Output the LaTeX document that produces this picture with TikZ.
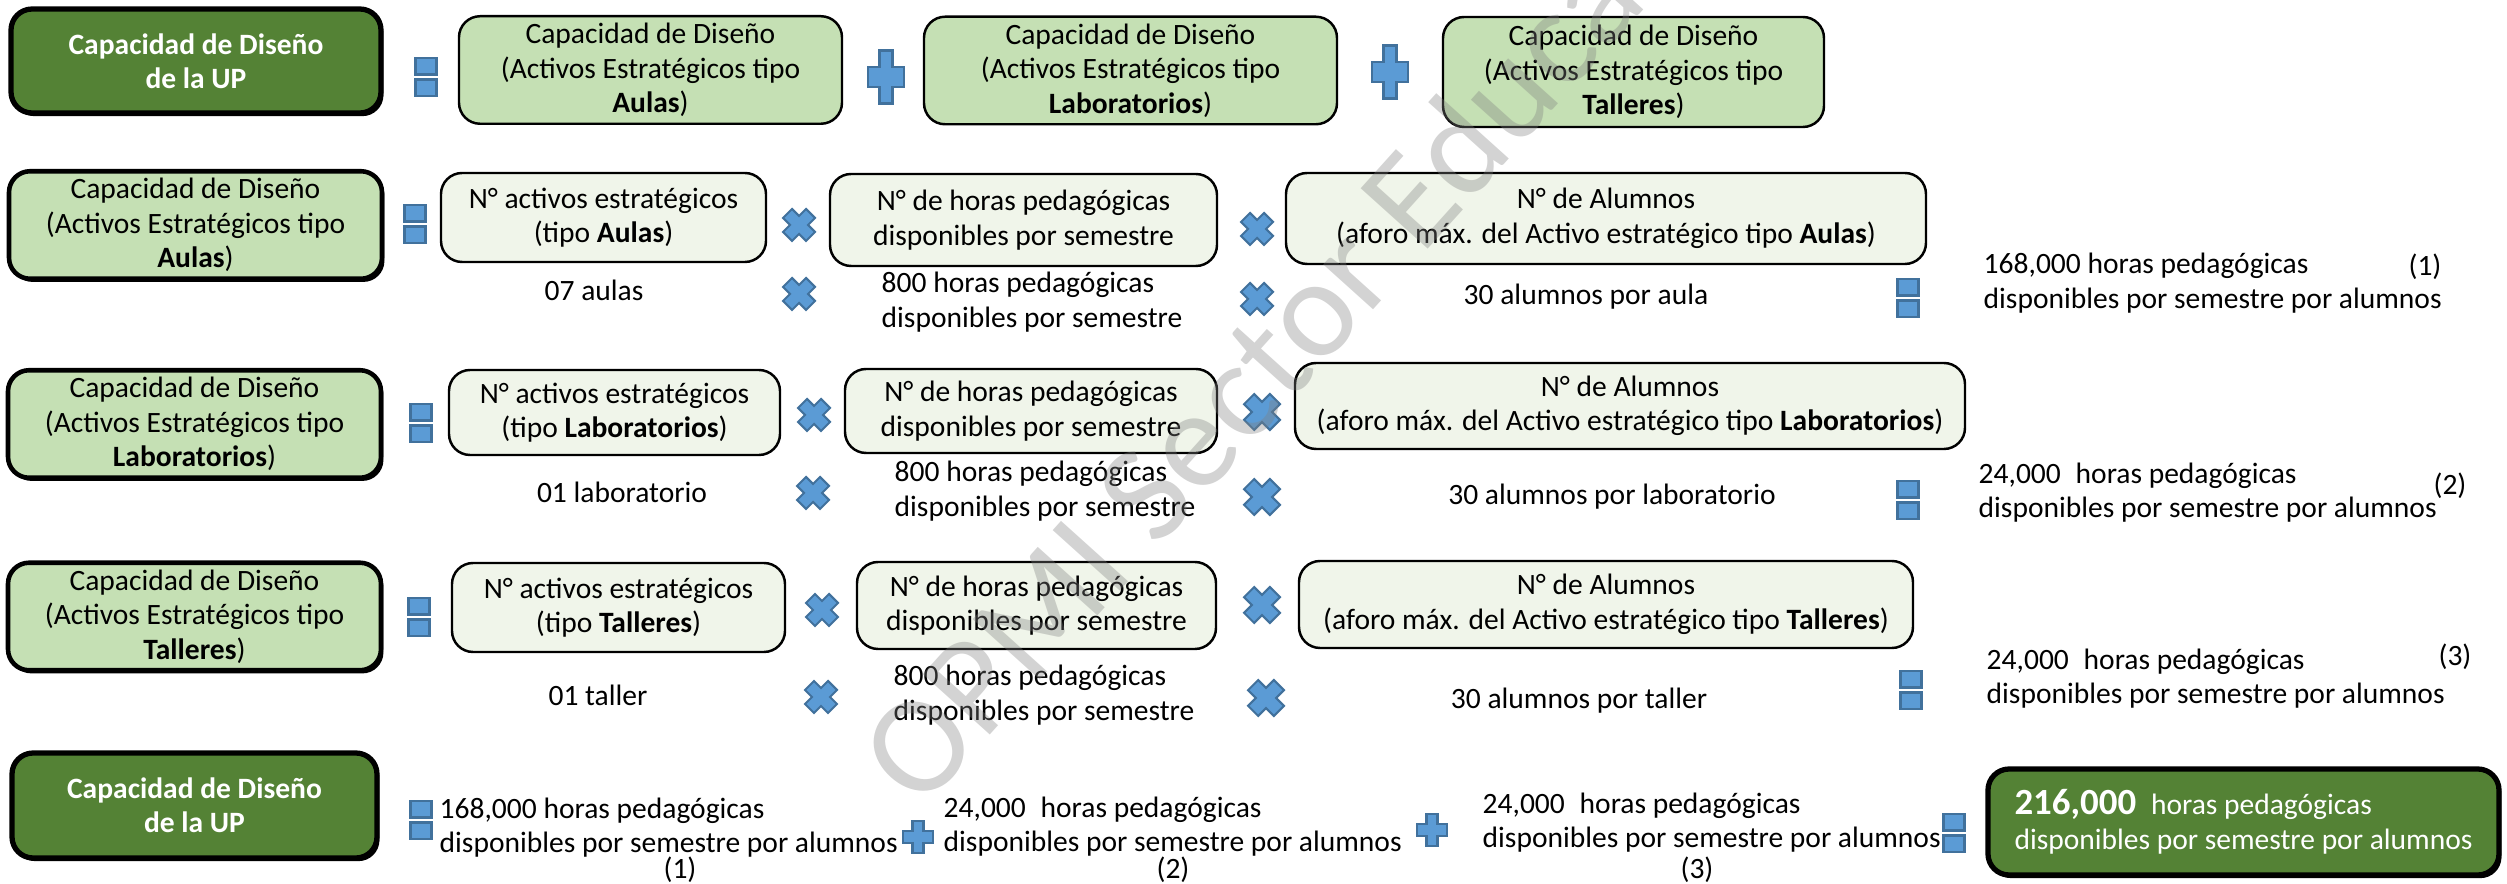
\documentclass[tikz,border=0pt]{standalone}
\usepackage{fontspec}
\setmainfont{Carlito}
\usetikzlibrary{positioning}
\definecolor{updark}{RGB}{84,130,53}
\definecolor{capgreen}{RGB}{197,224,180}
\definecolor{factfill}{RGB}{240,245,234}
\definecolor{iconblue}{RGB}{91,155,213}
\definecolor{iconedge}{RGB}{65,113,156}
\newcommand{\basefont}{\fontsize{8.4}{9.8}\selectfont}

\tikzset{
  iconshape/.style={fill=iconblue, draw=iconedge, line width=0.6pt},
  eqicon/.pic={
    \filldraw[iconshape] (-0.105,0.025) rectangle (0.105,0.19);
    \filldraw[iconshape] (-0.105,-0.025) rectangle (0.105,-0.19);
  },
  plusicon/.pic={
    \filldraw[iconshape] (-0.065,0.265) -- (0.065,0.265) -- (0.065,0.1) -- (0.18,0.1) -- (0.18,-0.1)
      -- (0.065,-0.1) -- (0.065,-0.265) -- (-0.065,-0.265) -- (-0.065,-0.1) -- (-0.18,-0.1)
      -- (-0.18,0.1) -- (-0.065,0.1) -- cycle;
  },
  timesicon/.pic={
    \filldraw[iconshape] (0,0.09) -- (0.07,0.16) -- (0.16,0.07) -- (0.09,0) -- (0.16,-0.07)
      -- (0.07,-0.16) -- (0,-0.09) -- (-0.07,-0.16) -- (-0.16,-0.07) -- (-0.09,0)
      -- (-0.16,0.07) -- (-0.07,0.16) -- cycle;
  }
}

\begin{document}
\begin{tikzpicture}[
    shadowed/.style={preaction={fill=black, transform canvas={xshift=0.7pt, yshift=-0.9pt}}},
    upbox/.style={rectangle, rounded corners=6pt, draw=black, line width=1.5pt, fill=updark, shadowed,
                  text=white, font=\basefont\bfseries, align=center, inner sep=2pt},
    capbox/.style={rectangle, rounded corners=6pt, draw=black, line width=1.3pt, fill=capgreen, shadowed,
                   font=\basefont, align=center, inner sep=2pt},
    sumbox/.style={rectangle, rounded corners=6pt, draw=black, line width=0.7pt, fill=capgreen,
                   font=\basefont, align=center, inner sep=2pt},
    factbox/.style={rectangle, rounded corners=6pt, draw=black, line width=0.7pt, fill=factfill,
                    font=\basefont, align=center, inner sep=2pt},
    plain/.style={font=\basefont, align=center, inner sep=1pt},
    result/.style={font=\basefont, align=left, anchor=west, inner sep=0pt}
]
\useasboundingbox (0,0) rectangle (25.07,-8.84);

% capacidad de la UP = suma de los tres tipos
\node[upbox, minimum width=3.70cm, minimum height=1.04cm] (upTop) at (1.96,-0.61) {Capacidad de Diseño\\de la UP};
\pic at (4.26,-0.77) {eqicon};
\node[sumbox, minimum width=3.83cm, minimum height=1.04cm] (sumAulas) at (6.505,-0.70) {Capacidad de Diseño\\(Activos Estratégicos tipo\\\textbf{Aulas})};
\pic at (8.86,-0.77) {plusicon};
\node[sumbox, minimum width=4.13cm, minimum height=1.07cm] (sumLab) at (11.305,-0.705) {Capacidad de Diseño\\(Activos Estratégicos tipo\\\textbf{Laboratorios})};
\pic at (13.90,-0.72) {plusicon};
\node[sumbox, minimum width=3.81cm, minimum height=1.10cm] (sumTal) at (16.335,-0.72) {Capacidad de Diseño\\(Activos Estratégicos tipo\\\textbf{Talleres})};

% aulas
\node[capbox, minimum width=3.73cm, minimum height=1.06cm] (capAulas) at (1.955,-2.25) {Capacidad de Diseño\\(Activos Estratégicos tipo\\\textbf{Aulas})};
\pic at (4.15,-2.24) {eqicon};
\node[factbox, minimum width=3.25cm, minimum height=0.89cm] (actAulas) at (6.035,-2.175) {N° activos estratégicos\\(tipo \textbf{Aulas})};
\node[plain] (valActAulas) at (5.94,-2.90) {07 aulas};
\pic at (7.99,-2.25) {timesicon};
\pic at (7.99,-2.94) {timesicon};
\node[factbox, minimum width=3.87cm, minimum height=0.92cm] (horAulas) at (10.235,-2.20) {N° de horas pedagógicas\\disponibles por semestre};
\node[result] (valHorAulas) at (8.81,-3.02) {800 horas pedagógicas\\disponibles por semestre};
\pic at (12.57,-2.29) {timesicon};
\pic at (12.57,-2.99) {timesicon};
\node[factbox, minimum width=6.40cm, minimum height=0.91cm] (aluAulas) at (16.06,-2.185) {N° de Alumnos\\(aforo máx. del Activo estratégico tipo \textbf{Aulas})};
\node[plain] (valAluAulas) at (15.86,-2.97) {30 alumnos por aula};
\pic at (19.08,-2.98) {eqicon};
\node[result] (resAulas) at (19.83,-2.83) {168,000 horas pedagógicas\\disponibles por semestre por alumnos};
\node[plain] (refAulas) at (24.25,-2.67) {(1)};

% laboratorios
\node[capbox, minimum width=3.73cm, minimum height=1.04cm] (capLab) at (1.945,-4.24) {Capacidad de Diseño\\(Activos Estratégicos tipo\\\textbf{Laboratorios})};
\pic at (4.21,-4.23) {eqicon};
\node[factbox, minimum width=3.31cm, minimum height=0.85cm] (actLab) at (6.145,-4.125) {N° activos estratégicos\\(tipo \textbf{Laboratorios})};
\node[plain] (valActLab) at (6.22,-4.92) {01 laboratorio};
\pic at (8.14,-4.15) {timesicon};
\pic at (8.13,-4.93) {timesicon};
\node[factbox, minimum width=3.72cm, minimum height=0.84cm] (horLab) at (10.31,-4.11) {N° de horas pedagógicas\\disponibles por semestre};
\node[result] (valHorLab) at (8.94,-4.91) {800 horas pedagógicas\\disponibles por semestre};
\pic[scale=1.12] at (12.62,-4.12) {timesicon};
\pic[scale=1.12] at (12.62,-4.97) {timesicon};
\node[factbox, minimum width=6.70cm, minimum height=0.86cm] (aluLab) at (16.30,-4.06) {N° de Alumnos\\(aforo máx. del Activo estratégico tipo \textbf{Laboratorios})};
\node[plain] (valAluLab) at (16.12,-4.97) {30 alumnos por laboratorio};
\pic at (19.08,-5.00) {eqicon};
\node[result] (resLab) at (19.78,-4.925) {24,000\enspace horas pedagógicas\\disponibles por semestre por alumnos};
\node[plain] (refLab) at (24.50,-4.86) {(2)};

% talleres
\node[capbox, minimum width=3.73cm, minimum height=1.07cm] (capTal) at (1.945,-6.165) {Capacidad de Diseño\\(Activos Estratégicos tipo\\\textbf{Talleres})};
\pic at (4.19,-6.17) {eqicon};
\node[factbox, minimum width=3.33cm, minimum height=0.89cm] (actTal) at (6.185,-6.075) {N° activos estratégicos\\(tipo \textbf{Talleres})};
\node[plain] (valActTal) at (5.98,-6.95) {01 taller};
\pic at (8.22,-6.10) {timesicon};
\pic at (8.21,-6.97) {timesicon};
\node[factbox, minimum width=3.59cm, minimum height=0.87cm] (horTal) at (10.365,-6.055) {N° de horas pedagógicas\\disponibles por semestre};
\node[result] (valHorTal) at (8.93,-6.95) {800 horas pedagógicas\\disponibles por semestre};
\pic[scale=1.12] at (12.62,-6.05) {timesicon};
\pic[scale=1.12] at (12.66,-6.98) {timesicon};
\node[factbox, minimum width=6.14cm, minimum height=0.87cm] (aluTal) at (16.06,-6.045) {N° de Alumnos\\(aforo máx. del Activo estratégico tipo \textbf{Talleres})};
\node[plain] (valAluTal) at (15.79,-7.01) {30 alumnos por taller};
\pic at (19.11,-6.90) {eqicon};
\node[result] (resTal) at (19.86,-6.785) {24,000\enspace horas pedagógicas\\disponibles por semestre por alumnos};
\node[plain] (refTal) at (24.55,-6.57) {(3)};

% total
\node[upbox, minimum width=3.65cm, minimum height=1.05cm] (upBot) at (1.945,-8.055) {Capacidad de Diseño\\de la UP};
\pic at (4.21,-8.20) {eqicon};
\node[result] (totAulas) at (4.39,-8.275) {168,000 horas pedagógicas\\disponibles por semestre por alumnos};
\node[plain] (totRefA) at (6.80,-8.70) {(1)};
\pic[xscale=0.85, yscale=0.62] at (9.18,-8.37) {plusicon};
\node[result] (totLab) at (9.43,-8.265) {24,000\enspace horas pedagógicas\\disponibles por semestre por alumnos};
\node[plain] (totRefL) at (11.73,-8.70) {(2)};
\pic[xscale=0.85, yscale=0.62] at (14.32,-8.30) {plusicon};
\node[result] (totTal) at (14.82,-8.225) {24,000\enspace horas pedagógicas\\disponibles por semestre por alumnos};
\node[plain] (totRefT) at (16.97,-8.70) {(3)};
\pic at (19.54,-8.33) {eqicon};
\node[upbox, font=\basefont, align=left, minimum width=5.11cm, minimum height=1.06cm] (total) at (22.435,-8.22) {{\fontsize{10.5}{10.5}\selectfont\bfseries 216,000}\enspace horas pedagógicas\\disponibles por semestre por alumnos};

% marca de agua
\node[rotate=48, anchor=west, text=gray, text opacity=0.35, inner sep=0pt,
      font=\fontsize{40}{40}\selectfont] (mark) at (8.85,-7.80) {OPMI Sector Educación};
\end{tikzpicture}
\end{document}
